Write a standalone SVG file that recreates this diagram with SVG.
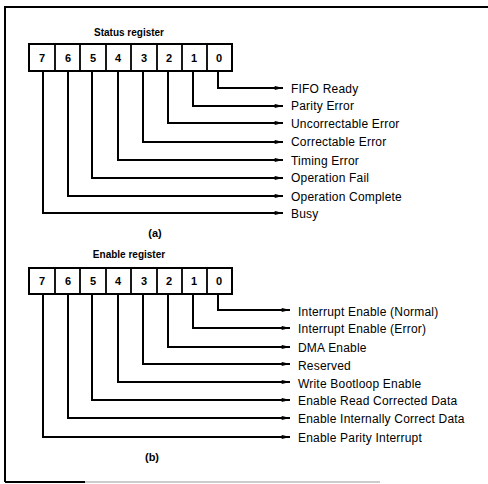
<svg xmlns="http://www.w3.org/2000/svg" width="488" height="484" viewBox="0 0 488 484">
<style>
.t{font-family:"Liberation Sans",Arial,sans-serif;font-size:12px;letter-spacing:0.2px;fill:#000}
.d{font-family:"Liberation Sans",Arial,sans-serif;font-size:11px;font-weight:bold;fill:#000;text-anchor:middle}
.ti{font-family:"Liberation Sans",Arial,sans-serif;font-size:10px;font-weight:bold;fill:#000;text-anchor:middle}
.c{fill:none;stroke:#000;stroke-width:2}
.box{fill:#fff;stroke:#000;stroke-width:2}
.w{fill:none;stroke:#000;stroke-width:1.8}
</style>
<defs>
<marker id="ah" viewBox="0 0 10 6" refX="10" refY="3" markerWidth="10" markerHeight="5" orient="auto" markerUnits="userSpaceOnUse">
<path d="M0,0.5 L10,3 L0,5.5 z" fill="#000"/>
</marker>
</defs>
<rect width="488" height="484" fill="#fff"/>
<g id="frame">
<path d="M5,482 V7 H488" class="c"/>
<path d="M5,482 H85" class="c"/>
<path d="M85,482 H380" fill="none" stroke="#bbb" stroke-width="1.5"/>
</g>
<g id="status-register">
<text class="ti" x="129" y="36">Status register</text>
<rect class="box" x="29" y="44" width="203" height="27"/>
<path class="w" d="M55,44V71M80,44V71M106,44V71M131,44V71M157,44V71M182,44V71M207,44V71"/>
<text class="d" x="42" y="62">7</text>
<text class="d" x="68" y="62">6</text>
<text class="d" x="93" y="62">5</text>
<text class="d" x="118" y="62">4</text>
<text class="d" x="144" y="62">3</text>
<text class="d" x="169" y="62">2</text>
<text class="d" x="194" y="62">1</text>
<text class="d" x="219" y="62">0</text>
</g>
<g id="status-connectors">
<path class="c" marker-end="url(#ah)" d="M218,71V88H283"/>
<path class="c" marker-end="url(#ah)" d="M193,71V106H283"/>
<path class="c" marker-end="url(#ah)" d="M168,71V123H283"/>
<path class="c" marker-end="url(#ah)" d="M143,71V142H283"/>
<path class="c" marker-end="url(#ah)" d="M118,71V160H283"/>
<path class="c" marker-end="url(#ah)" d="M92,71V178H283"/>
<path class="c" marker-end="url(#ah)" d="M68,71V196H283"/>
<path class="c" marker-end="url(#ah)" d="M43,71V213H283"/>
</g>
<g id="status-labels">
<text class="t" x="291" y="93">FIFO Ready</text>
<text class="t" x="291" y="110">Parity Error</text>
<text class="t" x="291" y="128">Uncorrectable Error</text>
<text class="t" x="291" y="146">Correctable Error</text>
<text class="t" x="291" y="165">Timing Error</text>
<text class="t" x="291" y="182">Operation Fail</text>
<text class="t" x="291" y="201">Operation Complete</text>
<text class="t" x="291" y="218">Busy</text>
<text class="d" x="155" y="237">(a)</text>
</g>
<g id="enable-register">
<text class="ti" x="129" y="258">Enable register</text>
<rect class="box" x="29" y="268" width="203" height="26"/>
<path class="w" d="M55,268V294M80,268V294M106,268V294M131,268V294M157,268V294M182,268V294M207,268V294"/>
<text class="d" x="42" y="285">7</text>
<text class="d" x="68" y="285">6</text>
<text class="d" x="93" y="285">5</text>
<text class="d" x="118" y="285">4</text>
<text class="d" x="144" y="285">3</text>
<text class="d" x="169" y="285">2</text>
<text class="d" x="194" y="285">1</text>
<text class="d" x="219" y="285">0</text>
</g>
<g id="enable-connectors">
<path class="c" marker-end="url(#ah)" d="M218,294V310H290"/>
<path class="c" marker-end="url(#ah)" d="M193,294V328H290"/>
<path class="c" marker-end="url(#ah)" d="M168,294V347H290"/>
<path class="c" marker-end="url(#ah)" d="M143,294V364H290"/>
<path class="c" marker-end="url(#ah)" d="M118,294V382H290"/>
<path class="c" marker-end="url(#ah)" d="M92,294V400H290"/>
<path class="c" marker-end="url(#ah)" d="M68,294V418H290"/>
<path class="c" marker-end="url(#ah)" d="M43,294V437H290"/>
</g>
<g id="enable-labels">
<text class="t" x="298" y="316">Interrupt Enable (Normal)</text>
<text class="t" x="298" y="333">Interrupt Enable (Error)</text>
<text class="t" x="298" y="352">DMA Enable</text>
<text class="t" x="298" y="370">Reserved</text>
<text class="t" x="298" y="388">Write Bootloop Enable</text>
<text class="t" x="298" y="405">Enable Read Corrected Data</text>
<text class="t" x="298" y="423">Enable Internally Correct Data</text>
<text class="t" x="298" y="442">Enable Parity Interrupt</text>
<text class="d" x="152" y="461">(b)</text>
</g>
</svg>
